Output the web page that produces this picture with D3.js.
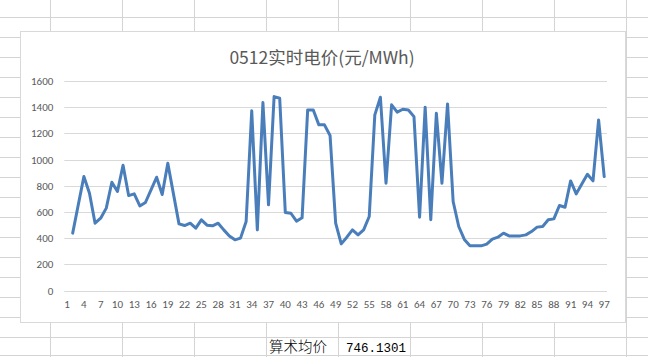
<!DOCTYPE html>
<html>
<head>
<meta charset="utf-8">
<script src="https://cdn.jsdelivr.net/npm/d3@7"></script>
<style>
  html, body { margin: 0; padding: 0; background: #fff; }
  svg { display: block; }
</style>
</head>
<body>
<svg id="chart"></svg>
<script>
// 0512 real-time price, 97 slots (slot 1 empty)
const chartTitle = "0512实时电价(元/MWh)";
const categories = d3.range(1, 98);
const prices = [
  null,
  438, 655, 870, 743, 514, 552, 629, 827, 756, 957,
  725, 738, 646, 672, 769, 865, 733, 972, 740, 509,
  496, 514, 476, 540, 499, 494, 514, 463, 417, 387,
  400, 527, 1372, 463, 1435, 654, 1481, 1468, 596, 590,
  529, 555, 1379, 1379, 1265, 1265, 1184, 514, 356, 407,
  463, 425, 463, 565, 1341, 1476, 819, 1418, 1362, 1384,
  1379, 1328, 560, 1400, 540, 1354, 819, 1425, 680, 489,
  390, 342, 341, 341, 354, 392, 407, 438, 417, 417,
  417, 425, 450, 484, 489, 540, 547, 649, 636, 837,
  738, 814, 888, 837, 1303, 870
];
const yTicks = [0, 200, 400, 600, 800, 1000, 1200, 1400, 1600];
const avgLabel = "算术均价";
const avgValue = "746.1301";

const width = 648, height = 357;
const svg = d3.select("#chart").attr("width", width).attr("height", height);

// spreadsheet grid behind the chart
const colLines = [50.5, 122.5, 194.5, 266.5, 338.5, 410.5, 482.5, 554.5, 626.5];
const rowLines = d3.range(17.5, 338, 20).concat([355.5]);
const sheet = svg.append("g").attr("stroke", "#d4d4d4").attr("stroke-width", 1);
sheet.selectAll(".col").data(colLines).join("line")
  .attr("x1", d => d).attr("x2", d => d).attr("y1", 0).attr("y2", height);
sheet.selectAll(".row").data(rowLines).join("line")
  .attr("x1", 0).attr("x2", width).attr("y1", d => d).attr("y2", d => d);

// chart area
svg.append("rect")
  .attr("x", 20.5).attr("y", 31.5)
  .attr("width", 605).attr("height", 291)
  .attr("fill", "#fff").attr("stroke", "#d9d9d9");

svg.append("text")
  .attr("x", 322).attr("y", 64)
  .attr("text-anchor", "middle")
  .attr("font-family", "'Noto Sans CJK SC', sans-serif")
  .attr("font-size", 17.5)
  .attr("fill", "#595959")
  .text(chartTitle);

const plot = { left: 64.3, right: 607, top: 81, bottom: 290.5 };

const x = d3.scaleBand()
  .domain(categories)
  .range([plot.left, plot.right])
  .padding(0);

const y = d3.scaleLinear()
  .domain([0, 1600])
  .range([plot.bottom, plot.top]);

const labelFont = "Carlito, 'Liberation Sans', Arial, sans-serif";

// horizontal gridlines
svg.append("g")
  .selectAll("line")
  .data(yTicks)
  .join("line")
  .attr("x1", plot.left).attr("x2", plot.right)
  .attr("y1", d => Math.round(y(d)) + 0.5)
  .attr("y2", d => Math.round(y(d)) + 0.5)
  .attr("stroke", "#d9d9d9");

// y axis labels
const yAxis = svg.append("g")
  .attr("transform", "translate(" + (plot.left - 11) + ",0)")
  .call(d3.axisLeft(y).tickValues(yTicks).tickFormat(d3.format("d")).tickSize(0).tickPadding(0));
yAxis.select(".domain").remove();
yAxis.selectAll("text")
  .attr("font-family", labelFont)
  .attr("font-size", 11)
  .attr("fill", "#595959");

// x axis labels, every third category
const xAxis = svg.append("g")
  .attr("transform", "translate(0," + plot.bottom + ")")
  .call(d3.axisBottom(x)
    .tickValues(categories.filter((d, i) => i % 3 === 0))
    .tickSize(0).tickPadding(10));
xAxis.select(".domain").remove();
xAxis.selectAll("text")
  .attr("font-family", labelFont)
  .attr("font-size", 11)
  .attr("fill", "#595959");

// price line
const line = d3.line()
  .defined(d => d != null)
  .x((d, i) => x(categories[i]) + x.bandwidth() / 2)
  .y(d => y(d));

svg.append("path")
  .datum(prices)
  .attr("d", line)
  .attr("fill", "none")
  .attr("stroke", "#4a7ebb")
  .attr("stroke-width", 3)
  .attr("stroke-linejoin", "round")
  .attr("stroke-linecap", "round");

// cells under the chart
svg.append("text")
  .attr("x", 269).attr("y", 352)
  .attr("font-family", "'Noto Sans CJK SC', sans-serif")
  .attr("font-size", 14.5)
  .attr("font-weight", 300)
  .attr("fill", "#000")
  .text(avgLabel);

svg.append("text")
  .attr("x", 406).attr("y", 352)
  .attr("text-anchor", "end")
  .attr("font-family", "'Liberation Mono', monospace")
  .attr("font-size", 12.5)
  .attr("fill", "#000")
  .text(avgValue);
</script>
</body>
</html>
